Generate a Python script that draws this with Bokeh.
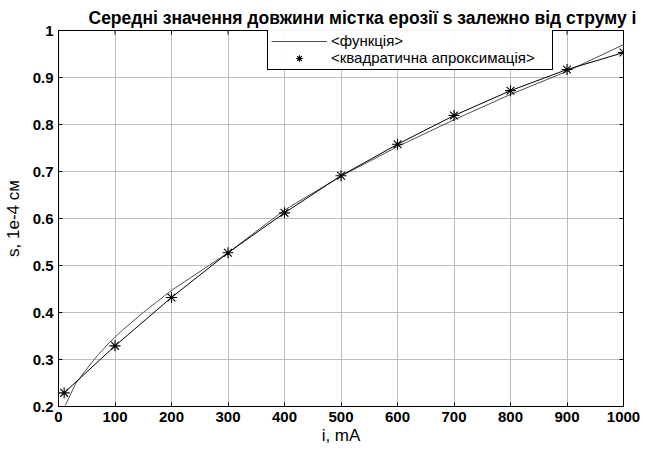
import math
from bokeh.plotting import figure
from bokeh.embed import file_html
from bokeh.resources import INLINE
from bokeh.models import Legend, LegendItem, Range1d, FixedTicker

# data
i_func = [12, 30, 50, 70, 90, 110, 150, 200, 300, 400, 500, 600, 700, 800, 900, 1000]
s_func = [0.202, 0.248, 0.28, 0.31, 0.336, 0.359, 0.400, 0.447, 0.527, 0.618, 0.690, 0.753, 0.810, 0.864, 0.913, 0.970]
i_approx = [10, 100, 200, 300, 400, 500, 600, 700, 800, 900, 1000]
s_approx = [0.229, 0.329, 0.432, 0.527, 0.612, 0.691, 0.758, 0.819, 0.872, 0.917, 0.953]
x_ticks = [0, 100, 200, 300, 400, 500, 600, 700, 800, 900, 1000]
y_ticks = [0.2, 0.3, 0.4, 0.5, 0.6, 0.7, 0.8, 0.9, 1.0]
y_tick_labels = ["0.2", "0.3", "0.4", "0.5", "0.6", "0.7", "0.8", "0.9", "1"]

title = "Середні значення довжини містка ерозії s залежно від струму i"
x_label = "i, mA"
y_label = "s, 1e-4 см"
legend_labels = ["<функція>", "<квадратична апроксимація>"]

FONT = "Liberation Sans"
X_MIN, X_MAX = 0, 1000
Y_MIN, Y_MAX = 0.2, 1.0

p = figure(width=648, height=450, output_backend="svg", toolbar_location=None,
           x_range=Range1d(X_MIN, X_MAX), y_range=Range1d(Y_MIN, Y_MAX),
           min_border_left=58, min_border_right=25, min_border_top=30, min_border_bottom=44)

p.title.text = title
p.title.text_font = FONT
p.title.text_font_size = "17.5px"
p.title.text_font_style = "bold"
p.title.text_color = "black"
p.title.align = "left"
p.title.offset = 30
p.title.standoff = 6

p.outline_line_color = "black"
p.outline_line_width = 1
p.outline_line_alpha = 1

for ax in (p.xaxis[0], p.yaxis[0]):
    ax.major_label_text_font = FONT
    ax.major_label_text_font_size = "15px"
    ax.major_label_text_font_style = "bold"
    ax.major_label_text_color = "black"
    ax.axis_label_text_font = FONT
    ax.axis_label_text_font_style = "normal"
    ax.axis_label_text_color = "black"
    ax.axis_line_color = "black"
    ax.major_tick_line_color = "black"
    ax.major_tick_in = 4
    ax.major_tick_out = 0
    ax.minor_tick_line_color = None
    ax.major_label_standoff = 5

p.xaxis[0].ticker = FixedTicker(ticks=x_ticks)
p.yaxis[0].ticker = FixedTicker(ticks=y_ticks)
p.yaxis[0].major_label_overrides = dict(zip(y_ticks, y_tick_labels))
p.xaxis[0].axis_label = x_label
p.yaxis[0].axis_label = y_label
p.xaxis[0].axis_label_text_font_size = "17px"
p.xaxis[0].axis_label_standoff = 1
p.yaxis[0].axis_label_text_font_size = "17px"
p.yaxis[0].axis_label_standoff = 7

p.grid.grid_line_color = "#bcbcbc"
p.grid.grid_line_alpha = 1
p.xgrid.ticker = FixedTicker(ticks=x_ticks)
p.ygrid.ticker = FixedTicker(ticks=y_ticks)

# inward tick marks on the top and right edges (clipped to the frame)
p.scatter(x_ticks, [Y_MAX] * len(x_ticks), marker="dash", angle=math.pi / 2, size=8,
          line_color="black", line_width=1)
p.scatter([X_MAX] * len(y_ticks), y_ticks, marker="dash", angle=0, size=8,
          line_color="black", line_width=1)

r_func = p.line(i_func, s_func, line_color="#505050", line_width=1)
p.line(i_approx, s_approx, line_color="black", line_width=1)
r_pts = p.scatter(i_approx, s_approx, marker="asterisk", size=11, line_color="black", line_width=1.1)

legend = Legend(items=[LegendItem(label=legend_labels[0], renderers=[r_func]),
                       LegendItem(label=legend_labels[1], renderers=[r_pts])],
                location=(209, 336))
legend.label_text_font = FONT
legend.label_text_font_size = "15px"
legend.label_text_color = "black"
legend.border_line_color = "black"
legend.border_line_width = 1
legend.border_line_alpha = 1
legend.padding = 3
legend.spacing = 0
legend.margin = 0
legend.glyph_width = 56
legend.glyph_height = 16
legend.label_height = 16
legend.label_width = 218
legend.label_standoff = 4
legend.label_text_line_height = 1.0
p.add_layout(legend, "center")

open("out.html", "w").write(file_html(p, INLINE))
